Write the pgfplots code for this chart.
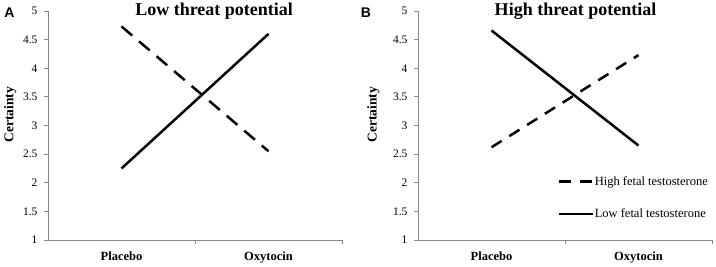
\documentclass[border=0pt]{standalone}
\usepackage{pgfplots}
\pgfplotsset{compat=1.18}
\usepackage{fontspec}
\setmainfont{Liberation Serif}
\newfontfamily\sansfnt{Liberation Sans}
\definecolor{axgray}{HTML}{888888}
\begin{document}
\begin{tikzpicture}[x=1pt,y=1pt]
\path[use as bounding box] (-48pt,-26pt) rectangle (668pt,240pt);
\pgfplotsset{
  panel/.style={
    scale only axis, width=294pt, height=229pt,
    xmin=0, xmax=2, ymin=1, ymax=5,
    axis x line=bottom, axis y line=left,
    axis line style={draw=axgray, line width=0.9pt, -},
    tick align=outside,
    xtick={0.5,1.5},
    xticklabels={Placebo,Oxytocin},
    major x tick style={draw=none},
    minor xtick={1,2},
    minor tick length=4pt,
    major tick length=4pt,
    minor x tick style={draw=axgray, line width=0.9pt},
    y tick style={draw=axgray, line width=0.9pt},
    ytick={1,1.5,2,2.5,3,3.5,4,4.5,5},
    yticklabel style={font=\fontsize{11.5}{13}\selectfont, xshift=-3pt},
    /pgf/number format/assume math mode=true,
    xticklabel style={font=\fontsize{12.5}{14}\selectfont\bfseries, yshift=-4pt},
    ylabel={Certainty},
    ylabel style={font=\fontsize{13.5}{15}\selectfont\bfseries, anchor=center},
    title style={font=\fontsize{18}{20}\selectfont\bfseries, anchor=base, yshift=-10pt},
    clip=false,
  },
  legend image code/.code={\draw[#1] (0pt,0pt) -- (34pt,0pt);},
}
\begin{axis}[panel, at={(0pt,0pt)}, anchor=south west,
  title={Low threat potential},
  title style={at={(axis description cs:0.565,1)}},
  ylabel style={at={(axis description cs:-0.129,0.546)}}]
\addplot[black, line width=2.5pt, dash pattern=on 14pt off 9pt] coordinates {(0.5,4.73) (1.5,2.55)};
\addplot[black, line width=2.5pt] coordinates {(0.5,2.25) (1.5,4.60)};
\node[font=\sansfnt\bfseries\fontsize{14}{16}\selectfont] at (axis description cs:-0.131,0.991) {A};
\end{axis}
\begin{axis}[panel, at={(370pt,0pt)}, anchor=south west,
  title={High threat potential},
  title style={at={(axis description cs:0.536,1)}},
  ylabel style={at={(axis description cs:-0.152,0.546)}},
  legend style={draw=none, fill=none, at={(axis description cs:0.473,0.283)}, anchor=north west,
    font=\fontsize{12.5}{14}\selectfont, inner sep=0pt, row sep=20pt,
    cells={anchor=west}, nodes={inner sep=1pt}}]
\addplot[black, line width=2.5pt, dash pattern=on 12pt off 9pt] coordinates {(0.5,2.62) (1.5,4.23)};
\addlegendentry{High fetal testosterone}
\addplot[black, line width=2.5pt] coordinates {(0.5,4.66) (1.5,2.65)};
\addlegendentry{Low fetal testosterone}
\node[font=\sansfnt\bfseries\fontsize{14}{16}\selectfont] at (axis description cs:-0.177,0.991) {B};
\end{axis}
\end{tikzpicture}
\end{document}
